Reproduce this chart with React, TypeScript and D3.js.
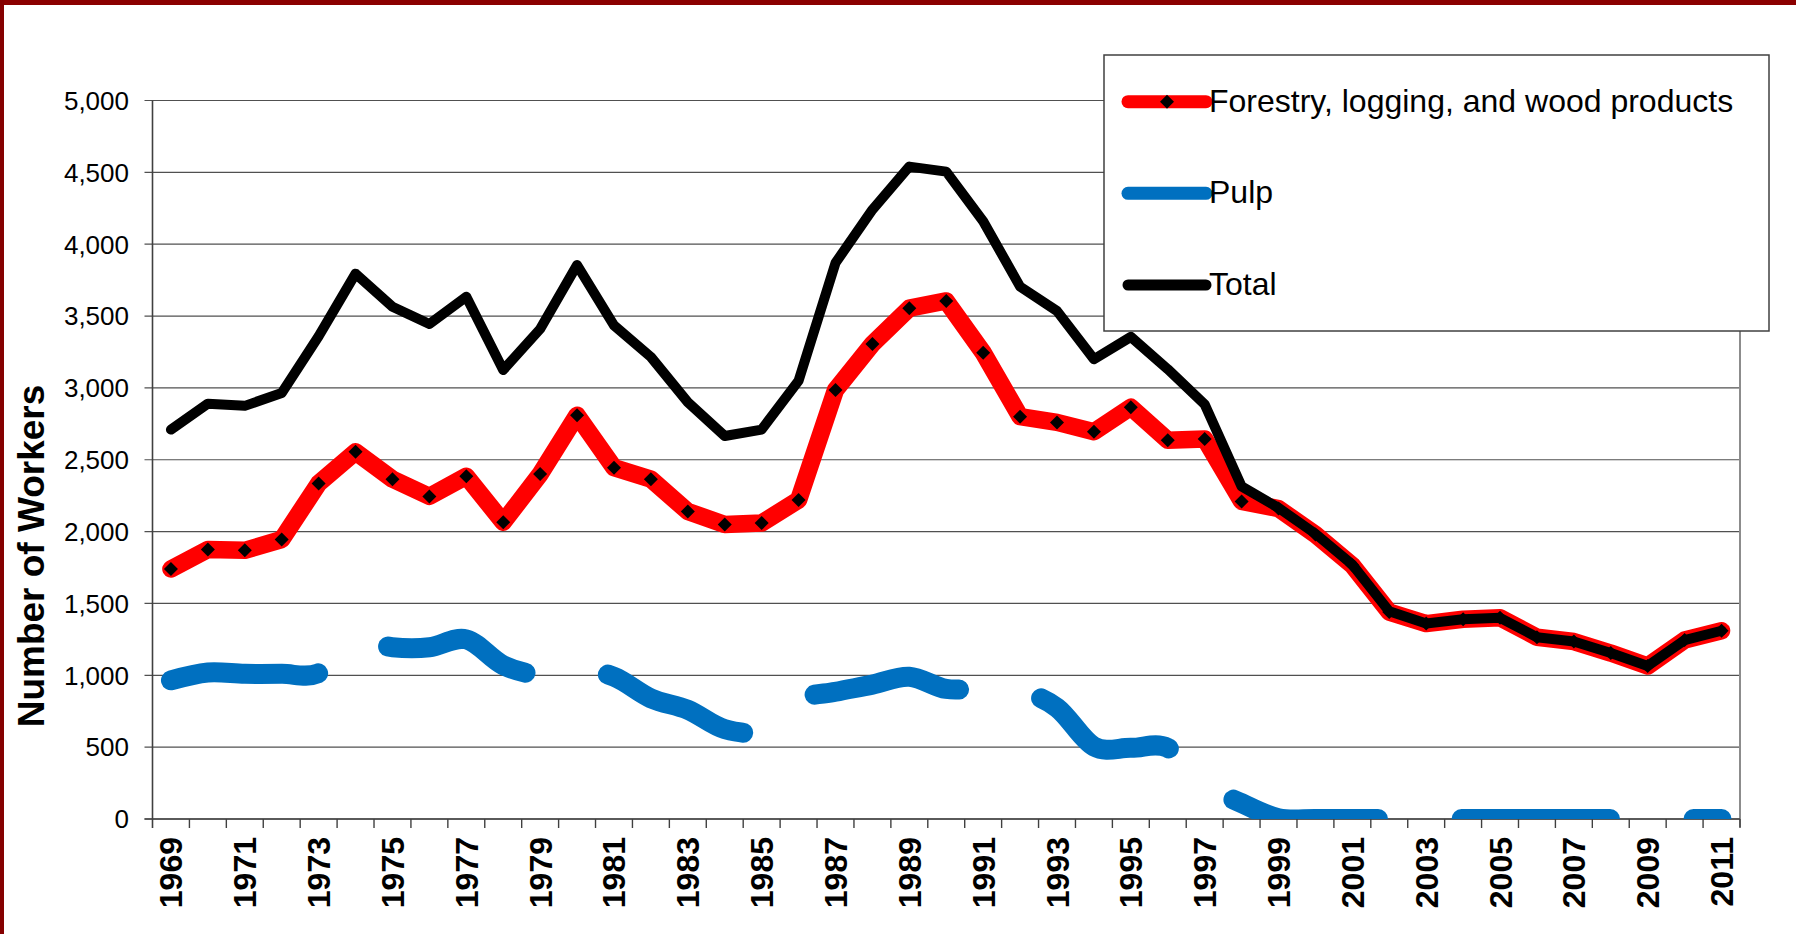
import React, { useEffect, useRef } from "react";
import * as d3 from "d3";

const W = 1796;
const H = 934;

const years = [
  1969, 1970, 1971, 1972, 1973, 1974, 1975, 1976, 1977, 1978,
  1979, 1980, 1981, 1982, 1983, 1984, 1985, 1986, 1987, 1988,
  1989, 1990, 1991, 1992, 1993, 1994, 1995, 1996, 1997, 1998,
  1999, 2000, 2001, 2002, 2003, 2004, 2005, 2006, 2007, 2008,
  2009, 2010, 2011,
];

const forestry = [
  1740, 1875, 1870, 1945, 2335, 2555, 2365, 2245, 2385, 2065,
  2400, 2810, 2445, 2365, 2140, 2050, 2060, 2220, 2985, 3305,
  3555, 3605, 3245, 2800, 2760, 2695, 2865, 2635, 2645, 2210,
  2160, 1980, 1765, 1440, 1360, 1390, 1400, 1265, 1235, 1155,
  1065, 1245, 1310,
];

const pulp = [
  965, 1020, 1010, 1010, 1015, 1240, 1195, 1195, 1250, 1070,
  1005, 1040, 990, 840, 760, 625, 620, 830, 885, 935,
  990, 905, 910, 890, 775, 505, 495, 495, 240, 110,
  5, 0, 0, 0, 0, 0, 0, 0, 0, 0,
  0, 0, 0,
];

const total = [
  2710, 2890, 2875, 2965, 3360, 3795, 3565, 3445, 3635, 3125,
  3410, 3855, 3435, 3215, 2900, 2665, 2710, 3050, 3870, 4240,
  4540, 4505, 4160, 3705, 3535, 3200, 3355, 3130, 2885, 2315,
  2165, 1985, 1770, 1445, 1360, 1390, 1400, 1265, 1235, 1155,
  1065, 1245, 1310,
];

const yTicks = [0, 500, 1000, 1500, 2000, 2500, 3000, 3500, 4000, 4500, 5000];
const xLabels = years.filter((yr) => yr % 2 === 1);

const legendItems = [
  { name: "Forestry, logging, and wood products", color: "#ff0000", width: 13, diamond: true },
  { name: "Pulp", color: "#0070c0", width: 13, diamond: false },
  { name: "Total", color: "#000000", width: 11, diamond: false },
];

const FONT = '"Liberation Sans", Arial, Helvetica, sans-serif';
const DIAMOND = "M0,-7L7,0L0,7L-7,0Z";

export default function App() {
  const ref = useRef<SVGSVGElement>(null);

  useEffect(() => {
    const svg = d3.select(ref.current);
    svg.selectAll("*").remove();

    const left = 152.5, right = 1740, top = 100.5, bottom = 819;

    const x = d3.scaleBand<number>().domain(years).range([left, right]);
    const cx = (yr: number) => (x(yr) as number) + x.bandwidth() / 2;
    const y = d3.scaleLinear().domain([0, 5000]).range([bottom, top]);

    svg.append("rect").attr("width", W).attr("height", H).attr("fill", "#ffffff");

    // frame of the slide
    svg.append("rect").attr("x", 0).attr("y", 0).attr("width", W).attr("height", 5).attr("fill", "#8b0000");
    svg.append("rect").attr("x", 0).attr("y", 0).attr("width", 4).attr("height", H).attr("fill", "#850000");

    svg.append("defs").append("clipPath").attr("id", "plotclip")
      .append("rect").attr("x", left).attr("y", top - 20).attr("width", right - left).attr("height", bottom - top + 20);

    // gridlines (with the small left ticks)
    svg.append("g").selectAll("line").data(yTicks).join("line")
      .attr("x1", left - 8).attr("x2", right)
      .attr("y1", (d) => y(d)).attr("y2", (d) => y(d))
      .attr("stroke", "#505050").attr("stroke-width", 1.2);

    // right plot border
    svg.append("line").attr("x1", right).attr("x2", right).attr("y1", top).attr("y2", bottom + 8)
      .attr("stroke", "#8c8c8c").attr("stroke-width", 2);

    // y axis
    svg.append("line").attr("x1", left).attr("x2", left).attr("y1", top).attr("y2", bottom + 9)
      .attr("stroke", "#404040").attr("stroke-width", 1.6);

    svg.append("g").selectAll("text").data(yTicks).join("text")
      .attr("x", 129).attr("y", (d) => y(d) + 9.3)
      .attr("text-anchor", "end")
      .attr("font-family", FONT).attr("font-size", 26).attr("fill", "#000")
      .text((d) => d3.format(",")(d));

    // x axis
    svg.append("line").attr("x1", left - 8).attr("x2", right).attr("y1", bottom).attr("y2", bottom)
      .attr("stroke", "#404040").attr("stroke-width", 1.6);
    const bounds = years.map((yr) => x(yr) as number).concat([right]);
    svg.append("g").selectAll("line").data(bounds.slice(1)).join("line")
      .attr("x1", (d) => d).attr("x2", (d) => d).attr("y1", bottom).attr("y2", bottom + 9)
      .attr("stroke", "#404040").attr("stroke-width", 1.4);

    svg.append("g").selectAll("text").data(xLabels).join("text")
      .attr("transform", (d) => `translate(${cx(d) + 11.5},837) rotate(-90)`)
      .attr("text-anchor", "end")
      .attr("font-family", FONT).attr("font-size", 32).attr("font-weight", "bold").attr("fill", "#000")
      .text((d) => String(d));

    svg.append("text")
      .attr("transform", "translate(43.5,556) rotate(-90)")
      .attr("text-anchor", "middle")
      .attr("font-family", FONT).attr("font-size", 37).attr("font-weight", "bold").attr("fill", "#000")
      .text("Number of Workers");

    const lineGen = (vals: number[]) =>
      d3.line<number>().x((_, i) => cx(years[i])).y((d) => y(d))(vals) as string;

    const smoothGen = (vals: number[]) =>
      d3.line<number>().x((_, i) => cx(years[i])).y((d) => y(d))
        .curve(d3.curveCatmullRom.alpha(0))(vals) as string;

    const plot = svg.append("g").attr("clip-path", "url(#plotclip)");

    plot.append("path").attr("d", lineGen(forestry))
      .attr("fill", "none").attr("stroke", "#ff0000").attr("stroke-width", 17.5)
      .attr("stroke-linejoin", "round").attr("stroke-linecap", "round");

    plot.append("g").selectAll("path").data(forestry).join("path")
      .attr("d", DIAMOND)
      .attr("transform", (d, i) => `translate(${cx(years[i])},${y(d)})`)
      .attr("fill", "#000");

    plot.append("path").attr("d", smoothGen(pulp))
      .attr("fill", "none").attr("stroke", "#0070c0").attr("stroke-width", 20)
      .attr("stroke-dasharray", "148.5 83.5")
      .attr("stroke-linejoin", "round").attr("stroke-linecap", "round");

    plot.append("path").attr("d", lineGen(total))
      .attr("fill", "none").attr("stroke", "#000000").attr("stroke-width", 10)
      .attr("stroke-linejoin", "round").attr("stroke-linecap", "round");

    // legend
    const lg = svg.append("g");
    lg.append("rect").attr("x", 1104).attr("y", 55).attr("width", 665).attr("height", 276)
      .attr("fill", "#fff").attr("stroke", "#404040").attr("stroke-width", 1.5);
    const rowY = [101.7, 193.3, 285];
    legendItems.forEach((it, i) => {
      lg.append("line").attr("x1", 1128).attr("x2", 1206).attr("y1", rowY[i]).attr("y2", rowY[i])
        .attr("stroke", it.color).attr("stroke-width", it.width).attr("stroke-linecap", "round");
      if (it.diamond) {
        lg.append("path").attr("d", DIAMOND).attr("transform", `translate(1167,${rowY[i]})`).attr("fill", "#000");
      }
      lg.append("text").attr("x", 1209).attr("y", rowY[i] + 10)
        .attr("font-family", FONT).attr("font-size", 32).attr("fill", "#000")
        .text(it.name);
    });
  }, []);

  return (
    <svg
      ref={ref}
      width={W}
      height={H}
      style={{ position: "absolute", left: 0, top: 0, display: "block" }}
    />
  );
}
